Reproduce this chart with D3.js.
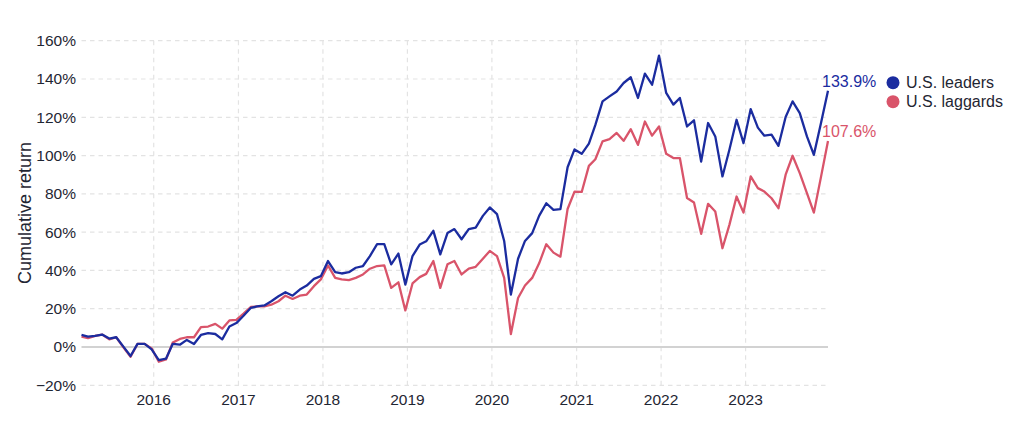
<!DOCTYPE html>
<html>
<head>
<meta charset="utf-8">
<script src="https://cdn.jsdelivr.net/npm/d3@7"></script>
<style>
  html, body { margin: 0; padding: 0; background: #fff; }
  svg { display: block; font-family: "Liberation Sans", Arial, Helvetica, sans-serif; }
  .grid line { stroke: #e3e3e3; stroke-width: 1.2; stroke-dasharray: 4.5,4; }
  .tick-label { fill: #1f2633; font-size: 15.5px; }
</style>
</head>
<body>
<svg id="chart" width="1024" height="434"></svg>
<script>
'use strict';

// Monthly observations, Feb 2015 .. Dec 2023 (cumulative return, %)
var leaders = [
    6.3, 5.4, 5.8, 6.5, 4.4, 5.1, 0.2, -4.7, 1.6, 1.6, -1.2,
    -6.8, -6.1, 1.6, 1.2, 3.7, 1.6, 6.3, 7.2, 6.8, 4.0, 10.7, 12.5,
    16.3, 20.4, 21.2, 21.7, 23.9, 26.5, 28.6, 26.8, 30.0, 32.1, 35.6, 37.0,
    44.9, 39.1, 38.4, 39.1, 41.4, 42.3, 47.5, 53.7, 53.7, 43.2, 48.8, 32.6,
    47.5, 53.5, 55.2, 60.7, 48.4, 59.5, 61.6, 56.3, 61.6, 62.4, 68.5, 72.9,
    69.4, 55.4, 27.4, 46.1, 55.4, 59.5, 68.5, 75.1, 71.6, 72.0, 93.9, 103.2,
    100.9, 106.2, 116.0, 128.3, 130.9, 133.5, 137.9, 140.9, 130.1, 142.8, 137.0, 152.2,
    132.7, 126.6, 130.1, 115.2, 118.4, 96.9, 117.0, 110.0, 89.1, 103.0, 118.7, 106.5,
    124.3, 114.6, 110.4, 110.9, 105.1, 120.1, 128.3, 122.2, 110.0, 100.4, 117.2, 133.9
];

var laggards = [
    5.4, 4.6, 5.8, 6.5, 4.0, 5.1, -0.2, -5.1, 1.6, 1.6, -0.7,
    -7.7, -6.5, 2.3, 4.2, 5.1, 5.1, 10.4, 10.7, 12.1, 9.6, 13.9, 14.2,
    17.4, 20.9, 21.2, 21.2, 22.1, 23.9, 26.8, 25.1, 26.8, 27.4, 31.8, 35.3,
    42.6, 36.1, 35.3, 34.9, 36.1, 37.9, 40.9, 42.3, 42.6, 30.9, 33.8, 19.1,
    33.2, 36.5, 38.2, 44.9, 30.9, 43.2, 44.9, 37.9, 40.9, 41.9, 46.1, 50.2,
    47.5, 36.1, 6.8, 25.6, 32.1, 36.1, 43.7, 53.7, 49.3, 47.2, 72.1, 81.2,
    81.0, 94.6, 98.1, 107.4, 108.6, 111.8, 107.7, 113.8, 105.6, 117.8, 110.4, 115.2,
    100.9, 98.7, 98.7, 77.8, 75.5, 59.1, 74.8, 70.8, 51.6, 63.8, 78.6, 70.2,
    89.1, 83.0, 81.2, 77.7, 72.5, 90.0, 99.9, 90.8, 80.4, 70.2, 89.0, 107.6
];

var seriesNames = ['U.S. leaders', 'U.S. laggards'];
var seriesColours = ['#1b2c9f', '#d9546a'];
var yTicks = [-20, 0, 20, 40, 60, 80, 100, 120, 140, 160];
var yearTicks = [2016, 2017, 2018, 2019, 2020, 2021, 2022, 2023];

var firstMonth = new Date(2015, 1, 23);
var dates = leaders.map(function(d, i) { return d3.timeMonth.offset(firstMonth, i); });

var plot = {left: 81.5, right: 828, top: 40.7, bottom: 385.3};

var svg = d3.select('#chart');

var x = d3.scaleTime()
    .domain([dates[0], dates[dates.length - 1]])
    .range([plot.left, plot.right]);

var y = d3.scaleLinear()
    .domain([-20, 160])
    .range([plot.bottom, plot.top]);

function pct(d) {
    return (d < 0 ? '\u2212' : '') + Math.abs(d) + '%';
}

// Horizontal grid lines
var grid = svg.append('g').attr('class', 'grid');
grid.selectAll('line.h')
    .data(yTicks.filter(function(d) { return d !== 0; }))
    .enter()
    .append('line')
        .attr('class', 'h')
        .attr('x1', plot.left)
        .attr('x2', plot.right)
        .attr('y1', function(d) { return y(d); })
        .attr('y2', function(d) { return y(d); });

// Vertical year grid lines
grid.selectAll('line.v')
    .data(yearTicks)
    .enter()
    .append('line')
        .attr('class', 'v')
        .attr('x1', function(d) { return x(new Date(d, 0, 1)); })
        .attr('x2', function(d) { return x(new Date(d, 0, 1)); })
        .attr('y1', plot.top)
        .attr('y2', plot.bottom);

// Zero line
svg.append('line')
    .attr('x1', plot.left)
    .attr('x2', plot.right)
    .attr('y1', y(0))
    .attr('y2', y(0))
    .attr('stroke', '#d2d2d2')
    .attr('stroke-width', 2);

// Y tick labels
svg.append('g').selectAll('text')
    .data(yTicks)
    .enter()
    .append('text')
        .attr('class', 'tick-label')
        .attr('x', 76)
        .attr('y', function(d) { return y(d); })
        .attr('dy', '0.35em')
        .attr('text-anchor', 'end')
        .text(pct);

// Year labels
svg.append('g').selectAll('text')
    .data(yearTicks)
    .enter()
    .append('text')
        .attr('class', 'tick-label')
        .attr('x', function(d) { return x(new Date(d, 0, 1)); })
        .attr('y', 404.5)
        .attr('text-anchor', 'middle')
        .text(function(d) { return d; });

// Axis title
svg.append('text')
    .attr('transform', 'translate(31,213) rotate(-90)')
    .attr('text-anchor', 'middle')
    .attr('fill', '#1f2633')
    .style('font-size', '18px')
    .text('Cumulative return');

// Lines
var line = d3.line()
    .x(function(d, i) { return x(dates[i]); })
    .y(function(d) { return y(d); });

var series = [leaders, laggards];

// Draw laggards first so leaders sit on top where they overlap.
[1, 0].forEach(function(s) {
    svg.append('path')
        .datum(series[s])
        .attr('fill', 'none')
        .attr('stroke', seriesColours[s])
        .attr('stroke-width', 2.3)
        .attr('stroke-linejoin', 'round')
        .attr('d', line);
});

// End value labels
series.forEach(function(values, s) {
    var last = values[values.length - 1];
    svg.append('text')
        .attr('x', x(dates[dates.length - 1]) - 6)
        .attr('y', y(last) - 3.8)
        .attr('fill', seriesColours[s])
        .style('font-size', '16px')
        .text(last.toFixed(1) + '%');
});

// Legend
var legend = svg.append('g')
    .attr('transform', 'translate(893,82.7)');

var legendItems = legend.selectAll('g')
    .data(seriesNames)
    .enter()
    .append('g')
        .attr('transform', function(d, i) { return 'translate(0,' + (i * 19) + ')'; });

legendItems.append('circle')
    .attr('r', 6.5)
    .attr('fill', function(d, i) { return seriesColours[i]; });

legendItems.append('text')
    .attr('x', 13)
    .attr('dy', '0.35em')
    .attr('fill', '#1f2633')
    .style('font-size', '16px')
    .text(function(d) { return d; });
</script>
</body>
</html>
